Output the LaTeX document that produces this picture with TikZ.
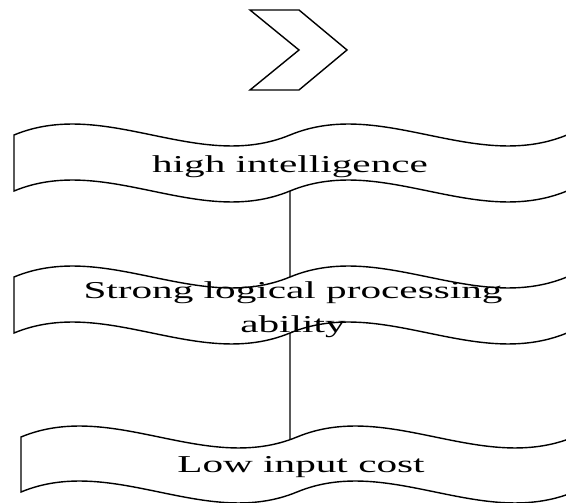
\documentclass[tikz,border=0pt]{standalone}
\usepackage{fontspec}
\setmainfont{Liberation Serif}
\usetikzlibrary{backgrounds}
\tikzset{
    x=0.02cm, y=-0.02cm, % one unit is one pixel of the sketch, y runs downwards
    wave/.style={draw, fill=white, line width=0.8pt}, % the wavy banners
    link/.style={line width=0.8pt}, % the line that joins the banners
}
% banner with a double wave on top and bottom: left x, top y, bottom y
\newcommand{\wavebox}[3]{%
  \draw[wave] (#1,#2)
    .. controls ({#1+92},{#2-38}) and ({#1+184},{#2+38}) .. ({#1+276},#2)
    .. controls ({#1+368},{#2-38}) and ({#1+460},{#2+38}) .. ({#1+553},#2)
    -- ({#1+553},#3)
    .. controls ({#1+460},{#3+38}) and ({#1+368},{#3-38}) .. ({#1+276},#3)
    .. controls ({#1+184},{#3+38}) and ({#1+92},{#3-38}) .. (#1,#3)
    -- cycle;}

\begin{document}
\begin{tikzpicture}[
    lbl/.style={font=\fontsize{13.8}{19.8}\selectfont, align=center, inner sep=0pt, xscale=1.70, anchor=base},
  ]
  \useasboundingbox (0,0) rectangle (566,503);
  \clip (0,0) rectangle (566,503);
  % chevron on top
  \draw[line width=0.8pt] (250,10) -- (299,10) -- (347,50) -- (299,90) -- (250,90) -- (299,50) -- cycle;
  \wavebox{14}{135}{191}
  \wavebox{14}{277}{333}
  \wavebox{21}{437}{492}
  \node[lbl] (t1) at (290,173) {high intelligence};
  \node[lbl] (t2) at (293,333) {Strong logical processing\\ability};
  \node[lbl] (t3) at (301,473) {Low input cost};
  \begin{pgfonlayer}{background}
    \draw[link] (t1) -- (t1 |- t3);
  \end{pgfonlayer}
\end{tikzpicture}
\end{document}
